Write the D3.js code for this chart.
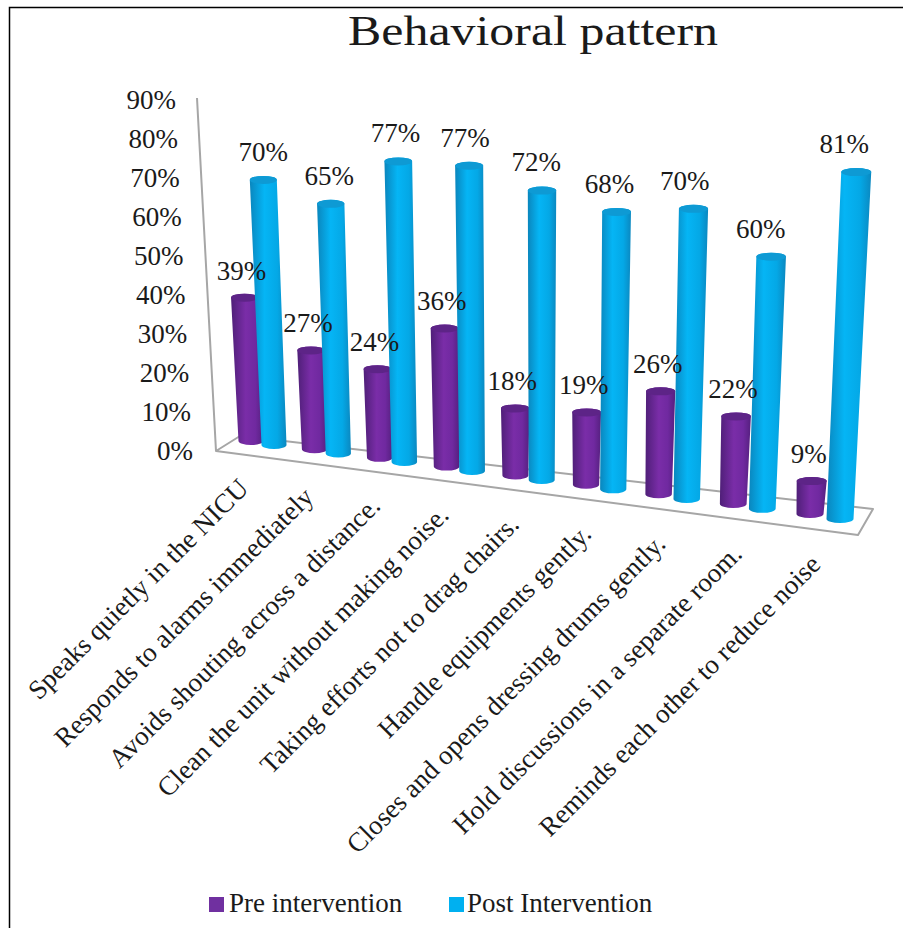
<!DOCTYPE html>
<html><head><meta charset="utf-8">
<script src="https://cdn.jsdelivr.net/npm/d3@7/dist/d3.min.js"></script>
<style>html,body{margin:0;padding:0;background:#fff}svg{display:block}text{font-family:"Liberation Serif",serif;fill:#1a1a1a}</style>
</head><body><svg id="c" width="903" height="928"></svg>
<script>
const categories = ["Speaks quietly in the NICU","Responds to alarms immediately","Avoids shouting across a distance.","Clean the unit without making noise.","Taking efforts not to drag chairs.","Handle equipments gently.","Closes and opens dressing drums gently.","Hold discussions in a separate room.","Reminds each other to reduce noise"];
const preValues = [39,27,24,36,18,19,26,22,9];
const postValues = [70,65,77,77,72,68,70,60,81];
const yTicks = [0,10,20,30,40,50,60,70,80,90];
const seriesNames = ["Pre intervention","Post Intervention"];
const seriesColors = ["#7030a0","#00b0f0"];

const svg = d3.select("#c");
const FONT = 27;

// Perspective depth along the category axis
const tScale = d3.scaleLinear().domain([0, categories.length-1]).range([0,1]);
const K = 0.1025;
const depth = i => { const t = tScale(i); return t*(1-K)/(1-K*t); };

const baseX = [d3.scaleLinear().range([251,810]), d3.scaleLinear().range([274,840])];
const baseY = [d3.scaleLinear().range([445,518]), d3.scaleLinear().range([449,523])];
const unit = d3.scaleLinear().range([3.83,4.32]);
const wBottom = d3.scaleLinear().range([25,27]);
const wTop = d3.scaleLinear().range([27,30]);
const catEndX = d3.scaleLinear().range([250,822]);
const catEndY = d3.scaleLinear().range([490,566]);
const tickY = d3.scaleLinear().domain([0,90]).range([451,100]);
const tickX = d3.scaleLinear().domain([0,90]).range([193,176]);
const lean = x => (x-535)*0.00015;

// frame
const frame = svg.append("g").attr("fill","none").attr("stroke","#000").attr("stroke-width",1.5);
frame.append("path").attr("d","M9.5,928V7.5H903");

// title
svg.append("text").attr("x",533).attr("y",45).attr("text-anchor","middle")
  .attr("font-size",43).attr("textLength",370).attr("lengthAdjust","spacingAndGlyphs").text("Behavioral pattern");

// gradients
const defs = svg.append("defs");
const stops = [
  [["0","#4f1f78"],["0.45","#7a2da8"],["0.75","#7029a0"],["1","#55207f"]],
  [["0","#0a86bd"],["0.4","#05b5f5"],["0.75","#04a8e6"],["1","#0b88c0"]]
];
stops.forEach((s,k)=>{
  const g = defs.append("linearGradient").attr("id","g"+k);
  s.forEach(d=>g.append("stop").attr("offset",d[0]).attr("stop-color",d[1]));
});
const capColors = ["#5d2487","#0e9ad4"];
const capExtra = [2,5];

// floor + wall
const wall = svg.append("g").attr("fill","none").attr("stroke","#a6a6a6").attr("stroke-width",2).attr("stroke-linejoin","round");
wall.append("path").attr("d","M197,98L216,451L240,436L873,509L858,535L216,451");
yTicks.forEach(v=>{
  svg.append("text").attr("x",tickX(v)).attr("y",tickY(v)).attr("dy","0.33em")
    .attr("text-anchor","end").attr("font-size",FONT).text(v+"%");
});

function cyl(g,i,v,k){
  const T = depth(i);
  const bx = baseX[k](T), bBottom = baseY[k](T);
  const h = capExtra[k] + v*unit(T);
  const tx = bx + lean(bx)*h, topY = bBottom - h;
  const wb = wBottom(T)/2, wt = wTop(T)/2, ry = 4;
  const by = bBottom-ry, ty = topY+ry;
  g.append("path").attr("fill",`url(#g${k})`)
    .attr("d",`M${tx-wt},${ty}L${bx-wb},${by}A${wb},${ry} 0 0 0 ${bx+wb},${by}L${tx+wt},${ty}A${wt},${ry} 0 0 0 ${tx-wt},${ty}Z`);
  g.append("ellipse").attr("cx",tx).attr("cy",ty).attr("rx",wt).attr("ry",ry).attr("fill",capColors[k]);
  return {tx,topY,T};
}

const marks = svg.append("g");
const labels = [];
categories.forEach((c,i)=>{
  const a = cyl(marks,i,preValues[i],0);
  labels.push({x:a.tx-3, y:a.topY-23, s:preValues[i]+"%"});
  const b = cyl(marks,i,postValues[i],1);
  labels.push({x:b.tx-a.T*12, y:b.topY-24, s:postValues[i]+"%"});
});
svg.append("g").selectAll("text").data(labels).join("text")
  .attr("x",d=>d.x).attr("y",d=>d.y).attr("dy","0.33em").attr("text-anchor","middle")
  .attr("font-size",FONT).text(d=>d.s);

// category labels
svg.append("g").selectAll("text").data(categories).join("text")
  .attr("text-anchor","end").attr("font-size",FONT)
  .attr("transform",(d,i)=>`translate(${catEndX(depth(i))},${catEndY(depth(i))}) rotate(-45)`)
  .text(d=>d);

// legend
const legX = d3.scalePoint().domain(seriesNames).range([209,449]);
const leg = svg.append("g").selectAll("g").data(seriesNames).join("g")
  .attr("transform",d=>`translate(${legX(d)},897)`);
leg.append("rect").attr("width",15).attr("height",15).attr("fill",(d,i)=>seriesColors[i]);
leg.append("text").attr("x",(d,i)=>i?18:20).attr("y",15).attr("font-size",FONT).text(d=>d);
</script></body></html>
